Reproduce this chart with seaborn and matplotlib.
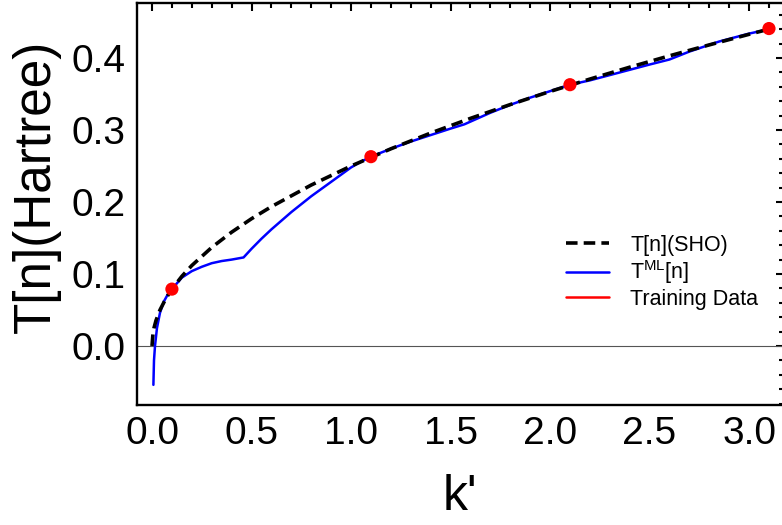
import matplotlib
matplotlib.use('Agg')
import matplotlib.pyplot as plt
import seaborn as sns
from matplotlib.lines import Line2D
from matplotlib.ticker import MultipleLocator, FormatStrFormatter

# SHO kinetic energy curve
sho_k = [0.0, 0.005, 0.01, 0.02, 0.04, 0.07, 0.1, 0.15, 0.2, 0.3, 0.4, 0.5, 0.6,
         0.8, 1.0, 1.2, 1.4, 1.6, 1.8, 2.0, 2.2, 2.4, 2.6, 2.8, 3.0, 3.1]
sho_T = [0.0, 0.0177, 0.025, 0.0354, 0.050, 0.0661, 0.079, 0.0968, 0.1118, 0.1369,
         0.1581, 0.1768, 0.1936, 0.2236, 0.250, 0.2739, 0.2958, 0.3162, 0.3354,
         0.3536, 0.3708, 0.3873, 0.4031, 0.4183, 0.4330, 0.4402]

# Machine-learned kinetic energy curve
ml_k = [0.007, 0.01, 0.015, 0.025, 0.04, 0.06, 0.08, 0.1, 0.15, 0.2, 0.25, 0.3, 0.35,
        0.4, 0.46, 0.5, 0.55, 0.6, 0.65, 0.7, 0.75, 0.8, 0.85, 0.9, 0.95, 1.0, 1.05,
        1.1, 1.2, 1.3, 1.4, 1.5, 1.57, 1.7, 1.8, 1.9, 2.0, 2.1, 2.2, 2.35, 2.5, 2.6,
        2.7, 2.85, 3.0, 3.1]
ml_T = [-0.054, -0.02, 0.0, 0.025, 0.046, 0.062, 0.072, 0.079, 0.095, 0.104, 0.110,
        0.115, 0.118, 0.120, 0.123, 0.135, 0.149, 0.162, 0.174, 0.186, 0.197, 0.208,
        0.218, 0.228, 0.238, 0.248, 0.256, 0.263, 0.274, 0.284, 0.293, 0.302, 0.308,
        0.324, 0.335, 0.345, 0.354, 0.363, 0.369, 0.380, 0.391, 0.398, 0.409, 0.423,
        0.434, 0.440]

# Training data
train_k = [0.1, 1.1, 2.1, 3.1]
train_T = [0.079, 0.263, 0.363, 0.441]

x_ticks = [0.0, 0.5, 1.0, 1.5, 2.0, 2.5, 3.0]
y_ticks = [0.0, 0.1, 0.2, 0.3, 0.4]

sns.set_theme(style='white')
plt.rcParams['font.family'] = ['Liberation Sans', 'DejaVu Sans']
plt.rcParams['mathtext.default'] = 'regular'
plt.rcParams['text.color'] = 'black'
plt.rcParams['axes.labelcolor'] = 'black'
plt.rcParams['xtick.color'] = 'black'
plt.rcParams['ytick.color'] = 'black'

fig = plt.figure(figsize=(7.82, 5.25), dpi=100)
ax = fig.add_axes([137 / 782, 1 - 405 / 525, (783.5 - 137) / 782, (405 - 3) / 525])

ax.axhline(0, color='#555555', lw=0.8, zorder=1)
sns.lineplot(x=ml_k, y=ml_T, color='blue', lw=1.8, ax=ax, zorder=2)
sns.lineplot(x=sho_k, y=sho_T, color='black', lw=2.6, linestyle=(0, (3.2, 1.7)), ax=ax, zorder=3)
sns.scatterplot(x=train_k, y=train_T, color='red', s=90, edgecolor='none', ax=ax, zorder=4)

ax.set_xlim(-0.0754, 3.173)
ax.set_ylim(-0.082, 0.4765)
ax.set_xticks(x_ticks)
ax.set_yticks(y_ticks)
ax.xaxis.set_major_formatter(FormatStrFormatter('%.1f'))
ax.yaxis.set_major_formatter(FormatStrFormatter('%.1f'))
ax.xaxis.set_minor_locator(MultipleLocator(0.1))
ax.yaxis.set_minor_locator(MultipleLocator(0.02))

for s in ax.spines.values():
    s.set_color('black')
    s.set_linewidth(1.7)
ax.tick_params(which='both', direction='in', top=True, right=True, color='black', width=1.5)
ax.tick_params(which='major', length=6, labelsize=28, pad=8, labelcolor='black')
ax.tick_params(which='minor', length=3.5)

ax.set_xlabel("k'", fontsize=36, labelpad=16, color='black')
ax.set_ylabel('T[n](Hartree)', fontsize=37, color='black')
ax.yaxis.set_label_coords(-0.118, 0.545)

handles = [Line2D([], [], color='black', lw=2.6, linestyle=(0, (3.2, 1.7))),
           Line2D([], [], color='blue', lw=1.8),
           Line2D([], [], color='red', lw=1.8)]
labels = ['T[n](SHO)', r'$T^{ML}[n]$', 'Training Data']
ax.legend(handles, labels, loc='upper left', bbox_to_anchor=(0.65, 0.445), frameon=False,
          fontsize=15.5, handlelength=2.0, handletextpad=1.0, labelspacing=0.12,
          borderaxespad=0, labelcolor='black')

fig.savefig('out.png', dpi=100)
